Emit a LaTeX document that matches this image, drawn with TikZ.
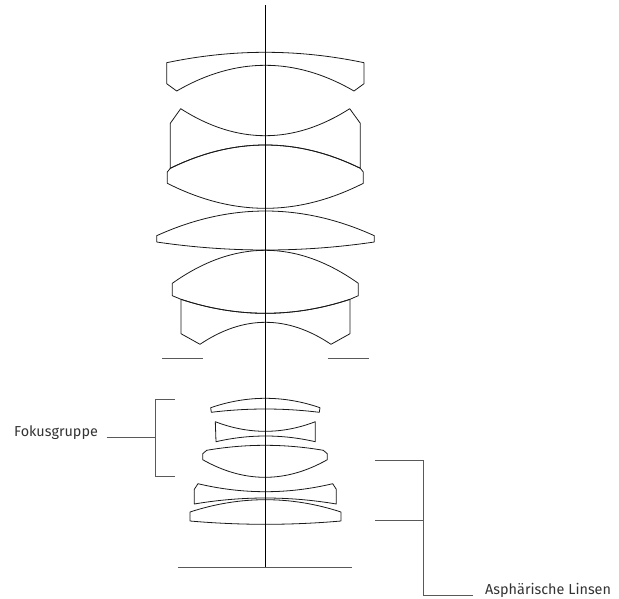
\documentclass[tikz,border=0pt]{standalone}
\usepackage{fontspec}
\setmainfont{Fira Sans}
\tikzset{
  lensline/.style={draw=black!90,line width=0.8pt,line join=round},
  axisline/.style={draw=black,line width=1pt},
  leader/.style={draw=black!65,line width=1pt},
  labeltext/.style={font=\fontsize{14.4}{16}\selectfont,text=black!80,inner sep=0pt,anchor=west}
}
\begin{document}
\begin{tikzpicture}[x=1pt,y=-1pt]
\useasboundingbox (0,0) rectangle (619,598);
% front group
\draw[lensline] (166.7,62.7) .. controls (232.5,48.83) and (298.2,48.83) .. (364,62.7) -- (364,83.7) -- (354,91) .. controls (294.9,56.73) and (235.8,56.73) .. (176.7,91) -- (166.7,83.7) -- cycle;
\draw[lensline] (180.7,108.7) .. controls (237,144.7) and (293.4,144.7) .. (349.7,108.7) -- (360.3,123.3) -- (360.3,168.3) .. controls (296.97,137.23) and (233.63,137.23) .. (170.3,168.3) -- (170.3,123.3) -- cycle;
\draw[lensline] (170.3,168.3) .. controls (233.63,137.23) and (296.97,137.23) .. (360.3,168.3) -- (363.3,172) -- (363.3,183.3) .. controls (297.3,216.63) and (233.3,216.63) .. (167.3,183.3) -- (167.3,172) -- cycle;
\draw[lensline] (156.7,235.7) .. controls (229.2,202.77) and (301.8,202.77) .. (374.3,235.7) -- (374.3,242) .. controls (301.8,252.67) and (229.2,252.67) .. (156.7,242) -- cycle;
\draw[lensline] (172.3,283.3) .. controls (234.3,239.3) and (296.3,239.3) .. (358.3,283.3) -- (358.3,295.7) -- (350,299.3) .. controls (293.7,317.97) and (237.3,317.97) .. (181,299.3) -- (172.3,295.7) -- cycle;
\draw[lensline] (181,299.3) .. controls (237.3,317.97) and (293.7,317.97) .. (350,299.3) -- (350,333.7) -- (331,344.3) .. controls (287.3,314.97) and (243.7,314.97) .. (200,344.3) -- (181,333.7) -- cycle;
% stop
\draw[leader] (162.3,358) -- (202.7,358);
\draw[leader] (327.7,358) -- (368.7,358);
% rear group
\draw[lensline] (210.7,407.7) .. controls (247.1,395.17) and (283.6,395.17) .. (320,407.7) -- (319.3,412.3) .. controls (283.3,407.9) and (247.3,407.9) .. (211.3,412.3) -- cycle;
\draw[lensline] (215.3,421.7) .. controls (248.6,434.5) and (282,434.5) .. (315.3,421.7) -- (315.3,441.7) .. controls (282.2,434.1) and (249,434.1) .. (216,441.7) -- cycle;
\draw[lensline] (206.7,450.3) .. controls (245.6,443.63) and (284.4,443.63) .. (323.3,450.3) -- (327.3,453.7) -- (327.3,459.7) .. controls (285.8,483.17) and (244.2,483.17) .. (202.7,459.7) -- (202.7,453.7) -- cycle;
\draw[lensline] (198,483.7) .. controls (242.9,494.37) and (287.8,494.37) .. (332.7,483.7) -- (336.3,489.3) -- (336.3,504) .. controls (289,496) and (241.6,496) .. (194.3,504) -- (194.3,489.3) -- cycle;
\draw[lensline] (190,512) .. controls (240.3,495.6) and (290.7,495.6) .. (341,512) -- (341,521) .. controls (290.7,525.4) and (240.3,525.4) .. (190,521) -- cycle;
% axis and image plane
\coordinate (axistop) at (265.3,5);
\coordinate (axisbot) at (265.3,568);
\coordinate (planeleft) at (178,567.5);
\coordinate (planeright) at (352,567.5);
\draw[axisline] (axistop) -- (axisbot);
\draw[leader] (planeleft) -- (planeright);
% labels
\node[labeltext] (fokus) at (14,433) {Fokusgruppe};
\node[labeltext] (asph) at (485,590.5) {Asphärische Linsen};
% brackets
\coordinate (fokustop) at (174.7,399);
\coordinate (fokusbot) at (174.7,476.7);
\coordinate (fokusfree) at (106.7,437.3);
\coordinate (fokusmid) at (155.7,437.3);
\draw[leader] (fokustop) -- (155.7,399) -- (155.7,476.7) -- (fokusbot);
\draw[leader] (fokusfree) -- (fokusmid);
\coordinate (aspha) at (375,460.7);
\coordinate (asphb) at (375,520.7);
\coordinate (asphmid) at (423.7,520.7);
\coordinate (asphfree) at (472.7,595.3);
\draw[leader] (aspha) -- (423.7,460.7) -- (423.7,595.3) -- (asphfree);
\draw[leader] (asphb) -- (asphmid);
\end{tikzpicture}
\end{document}
